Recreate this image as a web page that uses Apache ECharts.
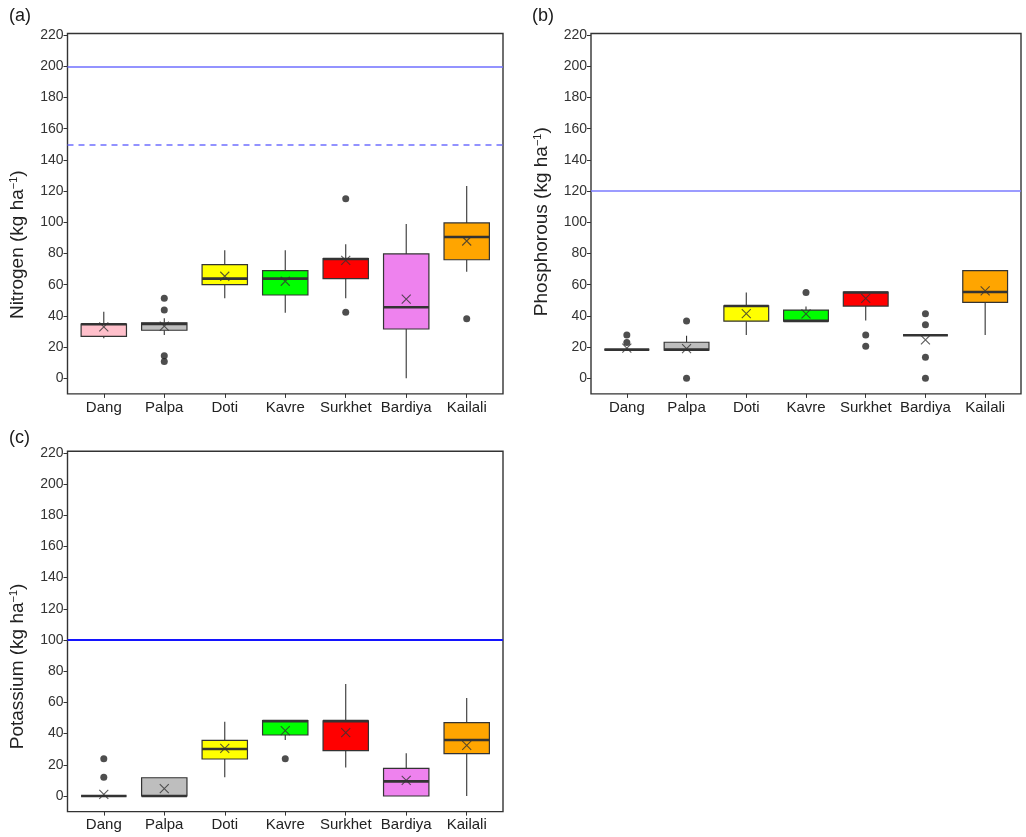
<!DOCTYPE html>
<html>
<head>
<meta charset="utf-8">
<script src="https://cdn.jsdelivr.net/npm/echarts@6/dist/echarts.min.js"></script>
<style>
  html, body { margin: 0; padding: 0; background: #fff; }
  #chart { width: 1026px; height: 837px; }
</style>
</head>
<body>
<div id="chart"></div>
<script>
// sites on the x axis
const sites = ['Dang', 'Palpa', 'Doti', 'Kavre', 'Surkhet', 'Bardiya', 'Kailali'];
const yTicks = [0, 20, 40, 60, 80, 100, 120, 140, 160, 180, 200, 220];

// (a) nitrogen: whisker low, Q1, median, Q3, whisker high, mean
const nLow  = [25.6, 27.8, 51.3, 42.0, 51.3, 0.0, 68.3];
const nQ1   = [26.9, 30.8, 60.0, 53.4, 63.9, 31.6, 76.0];
const nMed  = [34.6, 34.8, 63.9, 63.9, 76.5, 45.5, 90.6];
const nQ3   = [34.8, 35.6, 72.8, 69.0, 76.7, 79.7, 99.6];
const nHigh = [42.7, 38.5, 82.0, 82.0, 85.9, 98.9, 123.3];
const nMean = [33.0, 33.5, 65.4, 62.2, 75.6, 50.8, 88.0];
const nOut  = [['Palpa', 51.3], ['Palpa', 43.8], ['Palpa', 14.5], ['Palpa', 10.7],
               ['Surkhet', 115.1], ['Surkhet', 42.3], ['Kailali', 38.2]];
const nRef  = [200];
const nRefDashed = [150];

// (b) phosphorous
const pLow  = [18.4, 18.0, 27.8, 36.6, 37.0, 27.6, 27.8];
const pQ1   = [18.4, 18.0, 36.6, 36.6, 46.3, 27.6, 48.6];
const pMed  = [18.4, 18.4, 46.3, 36.8, 55.0, 27.6, 55.3];
const pQ3   = [18.4, 23.1, 46.5, 43.7, 55.3, 27.6, 69.0];
const pHigh = [18.4, 27.2, 55.0, 46.0, 55.3, 27.6, 69.0];
const pMean = [19.3, 19.0, 41.5, 41.3, 51.2, 24.6, 56.0];
const pOut  = [['Dang', 27.8], ['Dang', 22.9], ['Palpa', 36.8], ['Palpa', 0],
               ['Kavre', 55.0], ['Surkhet', 27.8], ['Surkhet', 20.6],
               ['Bardiya', 41.3], ['Bardiya', 34.4], ['Bardiya', 13.5], ['Bardiya', 0]];
const pRef  = [120];

// (c) potassium
const kLow  = [0, 0, 12.0, 35.9, 18.2, 0, 0];
const kQ1   = [0, 0, 23.7, 39.1, 29.1, 0, 27.1];
const kMed  = [0, 0, 30.1, 48.0, 48.0, 9.4, 35.9];
const kQ3   = [0, 11.7, 35.7, 48.3, 48.1, 17.7, 47.0];
const kHigh = [0, 11.7, 47.6, 48.3, 71.8, 27.4, 62.8];
const kMean = [1.0, 4.7, 30.5, 41.9, 40.6, 10.0, 32.5];
const kOut  = [['Dang', 23.9], ['Dang', 12.0], ['Kavre', 23.9]];
const kRef  = [100];

const fills = ['#FFC0CB', '#BEBEBE', '#FFFF00', '#00FF00', '#FF0000', '#EE82EE', '#FFA500'];
const ink = '#333333';
const font = 'Liberation Sans, Arial, sans-serif';

let myChart = echarts.init(document.getElementById('chart'));

function renderBox(params, api) {
    let x = api.value(0);
    let lo = api.coord([x, api.value(1)]);
    let q1 = api.coord([x, api.value(2)]);
    let md = api.coord([x, api.value(3)]);
    let q3 = api.coord([x, api.value(4)]);
    let hi = api.coord([x, api.value(5)]);
    let half = api.size([1, 0])[0] * 0.375;
    let cx = lo[0];
    return {
        type: 'group',
        children: [
            { type: 'line', shape: { x1: cx, y1: lo[1], x2: cx, y2: q1[1] }, style: { stroke: ink, lineWidth: 1.1 } },
            { type: 'line', shape: { x1: cx, y1: q3[1], x2: cx, y2: hi[1] }, style: { stroke: ink, lineWidth: 1.1 } },
            { type: 'rect', shape: { x: cx - half, y: q3[1], width: half * 2, height: q1[1] - q3[1] },
              style: { fill: fills[x - 1], stroke: ink, lineWidth: 1.2 } },
            { type: 'line', shape: { x1: cx - half, y1: md[1], x2: cx + half, y2: md[1] }, style: { stroke: ink, lineWidth: 2.6 } }
        ]
    };
}

function boxData(lo, q1, md, q3, hi) {
    return sites.map((s, i) => [i + 1, lo[i], q1[i], md[i], q3[i], hi[i]]);
}

function refLines(solid, dashed, color, width) {
    let data = solid.map(v => ({ yAxis: v, lineStyle: { type: 'solid' } }));
    dashed.forEach(v => data.push({ yAxis: v, lineStyle: { type: [6, 5] } }));
    return {
        symbol: 'none', silent: true, animation: false,
        label: { show: false },
        lineStyle: { color: color, width: width },
        data: data
    };
}

function panelSeries(idx, lo, q1, md, q3, hi, mean, out, mark) {
    return [
        {
            type: 'custom', xAxisIndex: idx, yAxisIndex: idx, z: 2,
            renderItem: renderBox,
            encode: { x: 0, y: [1, 2, 3, 4, 5] },
            data: boxData(lo, q1, md, q3, hi),
            markLine: mark
        },
        {
            type: 'scatter', xAxisIndex: idx, yAxisIndex: idx, z: 4,
            symbol: 'path://M0,0L10,10M10,0L0,10', symbolSize: 9,
            itemStyle: { color: 'rgba(0,0,0,0)', borderColor: ink, borderWidth: 1.1 },
            data: mean.map((v, i) => [i + 1, v])
        },
        {
            type: 'scatter', xAxisIndex: idx, yAxisIndex: idx, z: 4,
            symbol: 'circle', symbolSize: 7,
            itemStyle: { color: '#222' },
            data: out.map(o => [sites.indexOf(o[0]) + 1, o[1]])
        }
    ];
}

function xAxisFor(idx) {
    return {
        type: 'value', gridIndex: idx, min: 0.4, max: 7.6,
        axisLine: { show: false, onZero: false },
        splitLine: { show: false },
        axisTick: { show: true, length: 4, customValues: [1, 2, 3, 4, 5, 6, 7], lineStyle: { color: ink } },
        axisLabel: {
            customValues: [1, 2, 3, 4, 5, 6, 7],
            formatter: v => sites[Math.round(v) - 1],
            color: '#222', fontSize: 15, fontFamily: font, margin: 6
        }
    };
}

function yAxisFor(idx, name, shift) {
    return {
        type: 'value', gridIndex: idx, min: -10, max: 221,
        name: name + ' (kg ha{sup|\u22121})',
        nameLocation: 'middle', nameGap: 40,
        nameTextStyle: {
            color: '#222', fontSize: 19, fontFamily: font,
            padding: [0, shift, 0, 0],
            rich: { sup: { fontSize: 11, fontFamily: font, color: '#222', verticalAlign: 'top', padding: [0, 0, 8, 0] } }
        },
        axisLine: { show: false, onZero: false },
        splitLine: { show: false },
        axisTick: { show: true, length: 4, customValues: yTicks, lineStyle: { color: ink } },
        axisLabel: { customValues: yTicks, color: '#333', fontSize: 14, fontFamily: font, margin: 4 }
    };
}

let frame = { show: true, borderColor: ink, borderWidth: 1.4, backgroundColor: '#fff' };

let option = {
    backgroundColor: '#fff',
    animation: false,
    title: [
        { text: '(a)', left: 4, top: 2, textStyle: { fontSize: 18, fontWeight: 'normal', color: '#1a1a1a', fontFamily: font } },
        { text: '(b)', left: 527, top: 2, textStyle: { fontSize: 18, fontWeight: 'normal', color: '#1a1a1a', fontFamily: font } },
        { text: '(c)', left: 4, top: 424, textStyle: { fontSize: 18, fontWeight: 'normal', color: '#1a1a1a', fontFamily: font } }
    ],
    grid: [
        Object.assign({ left: 67.5, top: 33.5, width: 435.5, height: 360.4 }, frame),
        Object.assign({ left: 591, top: 33.5, width: 430, height: 360.4 }, frame),
        Object.assign({ left: 67.5, top: 451.2, width: 435.5, height: 360.4 }, frame)
    ],
    xAxis: [xAxisFor(0), xAxisFor(1), xAxisFor(2)],
    yAxis: [yAxisFor(0, 'Nitrogen', 62), yAxisFor(1, 'Phosphorous', 16), yAxisFor(2, 'Potassium', 70)],
    series: [].concat(
        panelSeries(0, nLow, nQ1, nMed, nQ3, nHigh, nMean, nOut, refLines(nRef, nRefDashed, '#6f6fff', 1.6)),
        panelSeries(1, pLow, pQ1, pMed, pQ3, pHigh, pMean, pOut, refLines(pRef, [], '#7b7bff', 1.6)),
        panelSeries(2, kLow, kQ1, kMed, kQ3, kHigh, kMean, kOut, refLines(kRef, [], '#1414ff', 2))
    )
};
myChart.setOption(option);
</script>
</body>
</html>
